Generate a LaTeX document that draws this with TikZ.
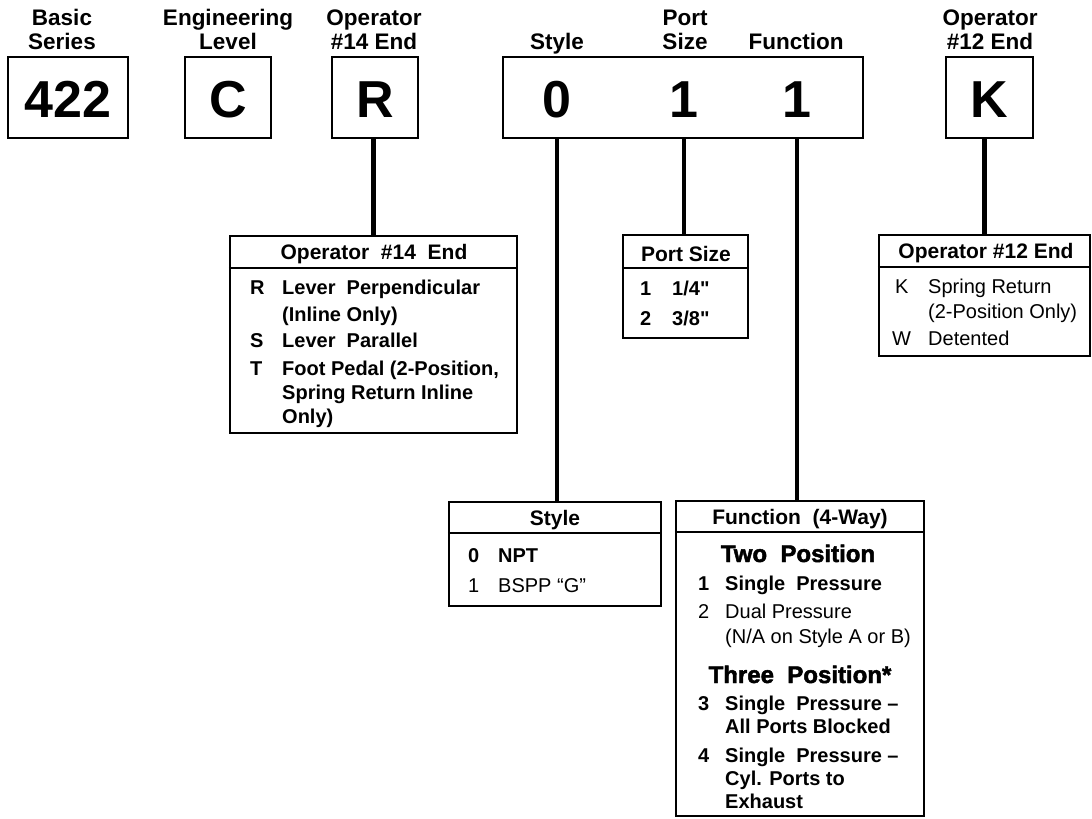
\documentclass[tikz,border=0pt]{standalone}
\usepackage{fontspec}
\setmainfont{Liberation Sans}
\newfontfamily\nolig{Liberation Sans}
\newfontfamily\heavyfont[FakeBold=2]{Liberation Sans Bold}
\newcommand\bigfnt{\fontsize{52}{60}\selectfont\bfseries}
\newcommand\hdrfnt{\fontsize{22.5}{24}\selectfont\bfseries}
\newcommand\bodyR{\fontsize{20}{24}\selectfont}
\newcommand\bodyB{\fontsize{20}{24}\selectfont\bfseries}
\newcommand\headB{\fontsize{21}{24}\selectfont\bfseries}
\newcommand\heavyB{\heavyfont\fontsize{24}{28}\selectfont}
\tikzset{
  topbox/.style={draw, line width=2.4pt, inner sep=0pt, minimum height=81pt,
    text height=40.5pt, text depth=0pt, font=\bigfnt},
  digit/.style={inner sep=0pt, text height=40.5pt, text depth=0pt, font=\bigfnt},
  listbox/.style={draw, line width=2.4pt, inner sep=0pt},
  sepline/.style={line width=2.4pt},
  conn/.style={line width=4.5pt},
  toplbl/.style={anchor=base, inner sep=0pt, font=\hdrfnt},
  boxhead/.style={anchor=base, inner sep=0pt, font=\headB},
  keyB/.style={anchor=base west, inner sep=0pt, font=\bodyB},
  keyR/.style={anchor=base west, inner sep=0pt, font=\bodyR},
  heavy/.style={anchor=base, inner sep=0pt, font=\heavyB}
}
\begin{document}
\begin{tikzpicture}[x=1pt, y=-1pt]
\useasboundingbox (0,0) rectangle (1092,819);

% ---- top labels
\node[toplbl] (l1a) at (62,25) {Basic};
\node[toplbl] (l1b) at (62,49) {Series};
\node[toplbl] (l2a) at (228,25) {Engineering};
\node[toplbl] (l2b) at (228,49) {Level};
\node[toplbl] (l3a) at (374,25) {Operator};
\node[toplbl] (l3b) at (374,49) {\#14 End};
\node[toplbl] (l4b) at (557,49) {Style};
\node[toplbl] (l5a) at (685,25) {Port};
\node[toplbl] (l5b) at (685,49) {Size};
\node[toplbl] (l6b) at (796,49) {Function};
\node[toplbl] (l7a) at (990,25) {Operator};
\node[toplbl] (l7b) at (990,49) {\#12 End};

% ---- top boxes
\node[topbox, minimum width=120pt] (b422) at (68,97.5) {422};
\node[topbox, minimum width=86pt] (bC) at (228,97.5) {C};
\node[topbox, minimum width=86pt] (bR) at (375,97.5) {R};
\node[topbox, minimum width=360pt] (b011) at (683,97.5) {};
\node[digit] (d0) at (557,97.5) {0};
\node[digit] (d1) at (684,97.5) {1};
\node[digit] (d2) at (797,97.5) {1};
\node[topbox, minimum width=87pt] (bK) at (989.5,97.5) {K};

% ---- lower boxes
\node[listbox, minimum width=287pt, minimum height=197pt] (op14) at (373.5,334.5) {};
\draw[sepline] (op14.north west) ++(0,33) -- ++(287,0);
\node[listbox, minimum width=125pt, minimum height=103pt] (port) at (685.5,286.5) {};
\draw[sepline] (port.north west) ++(0,34) -- ++(125,0);
\node[listbox, minimum width=211pt, minimum height=121pt] (op12) at (984.5,295.5) {};
\draw[sepline] (op12.north west) ++(0,33) -- ++(211,0);
\node[listbox, minimum width=212pt, minimum height=104pt] (style) at (555,554) {};
\draw[sepline] (style.north west) ++(0,32) -- ++(212,0);
\node[listbox, minimum width=248pt, minimum height=315pt] (func) at (800,658.5) {};
\draw[sepline] (func.north west) ++(0,32) -- ++(248,0);

% ---- connectors
\draw[conn] (op14.north) -- (op14.north |- bR.south);
\draw[conn] (d0 |- b011.south) -- (d0 |- style.north);
\draw[conn] (d1 |- b011.south) -- (d1 |- port.north);
\draw[conn] (d2 |- b011.south) -- (d2 |- func.north);
\draw[conn] (op12.north) -- (op12.north |- bK.south);

% ---- Operator #14 End
\node[boxhead] (h14) at (374,259) {Operator\ \ \#14\ \ End};
\node[keyB] (k14a) at (250,294) {R};
\node[keyB] (t14a) at (282,294) {Lever\ \ Perpendicular};
\node[keyB] (t14b) at (282,321) {(Inline Only)};
\node[keyB] (k14b) at (250,347) {S};
\node[keyB] (t14c) at (282,347) {Lever\ \ Parallel};
\node[keyB] (k14c) at (250,375) {T};
\node[keyB] (t14d) at (282,375) {Foot Pedal (2-Position,};
\node[keyB] (t14e) at (282,399) {Spring Return Inline};
\node[keyB] (t14f) at (282,423) {Only)};

% ---- Port Size
\node[boxhead] (hps) at (686,261) {Port Size};
\node[keyB] (kps1) at (640,295) {1};
\node[keyB] (tps1) at (672,295) {\nolig 1/4"};
\node[keyB] (kps2) at (640,325) {2};
\node[keyB] (tps2) at (672,325) {\nolig 3/8"};

% ---- Operator #12 End
\node[boxhead] (h12) at (986,258) {Operator \#12 End};
\node[keyR] (k12a) at (895,293) {K};
\node[keyR] (t12a) at (928,293) {Spring Return};
\node[keyR] (t12b) at (928,318) {(2-Position Only)};
\node[keyR] (k12b) at (892,345) {W};
\node[keyR] (t12c) at (928,345) {Detented};

% ---- Style
\node[boxhead] (hst) at (555,525) {Style};
\node[keyB] (kst0) at (468,562) {0};
\node[keyB] (tst0) at (498,562) {NPT};
\node[keyR] (kst1) at (468,592) {1};
\node[keyR] (tst1) at (498,592) {BSPP “G”};

% ---- Function
\node[boxhead] (hfn) at (800,524) {Function\ \ (4-Way)};
\node[heavy] (two) at (798,562) {Two\ \ Position};
\node[keyB] (kf1) at (698,590) {1};
\node[keyB] (tf1) at (725,590) {Single\ \ Pressure};
\node[keyR] (kf2) at (698,618) {2};
\node[keyR] (tf2) at (725,618) {Dual Pressure};
\node[keyR] (tf2b) at (725,643) {(N/A on Style A or B)};
\node[heavy] (three) at (800,683) {Three\ \ Position*};
\node[keyB] (kf3) at (698,710) {3};
\node[keyB] (tf3) at (725,710) {Single\ \ Pressure –};
\node[keyB] (tf3b) at (725,733) {All Ports Blocked};
\node[keyB] (kf4) at (698,762) {4};
\node[keyB] (tf4) at (725,762) {Single\ \ Pressure –};
\node[keyB] (tf4b) at (725,785) {Cyl. Ports to};
\node[keyB] (tf4c) at (725,808) {Exhaust};
\end{tikzpicture}
\end{document}
